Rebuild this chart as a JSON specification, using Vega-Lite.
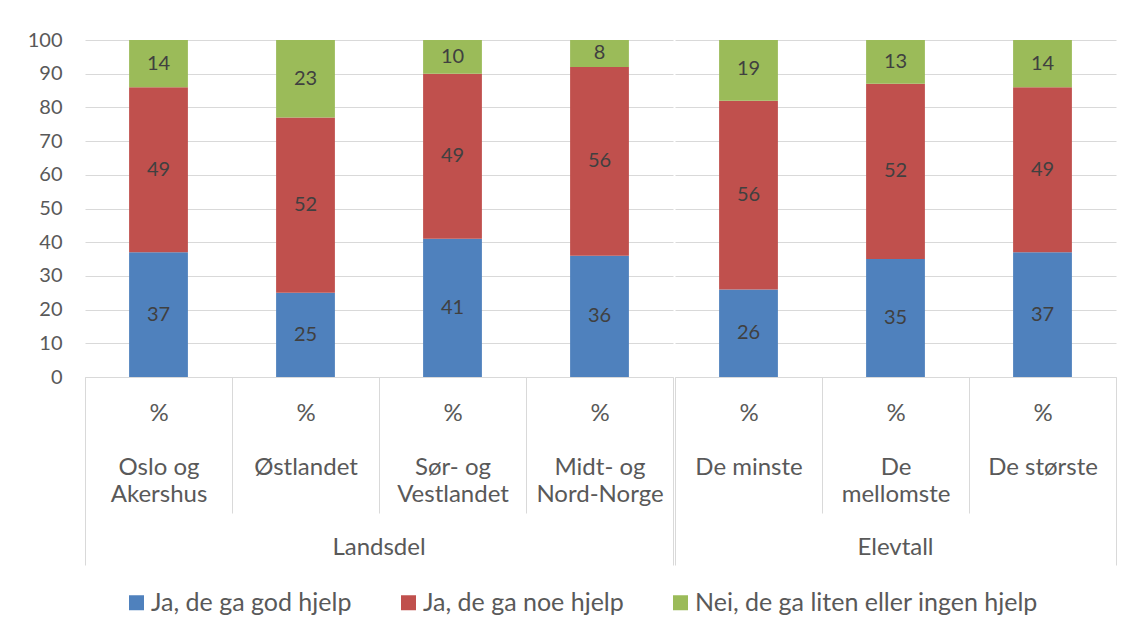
{
  "$schema": "https://vega.github.io/schema/vega-lite/v6.json",
  "padding": {"left": 27, "top": 30, "right": 16, "bottom": 5},
  "background": "white",
  "data": {
    "values": [
      {"group": "Landsdel", "category": "Oslo og Akershus", "series": "Ja, de ga god hjelp", "value": 37},
      {"group": "Landsdel", "category": "Oslo og Akershus", "series": "Ja, de ga noe hjelp", "value": 49},
      {"group": "Landsdel", "category": "Oslo og Akershus", "series": "Nei, de ga liten eller ingen hjelp", "value": 14},
      {"group": "Landsdel", "category": "Østlandet", "series": "Ja, de ga god hjelp", "value": 25},
      {"group": "Landsdel", "category": "Østlandet", "series": "Ja, de ga noe hjelp", "value": 52},
      {"group": "Landsdel", "category": "Østlandet", "series": "Nei, de ga liten eller ingen hjelp", "value": 23},
      {"group": "Landsdel", "category": "Sør- og Vestlandet", "series": "Ja, de ga god hjelp", "value": 41},
      {"group": "Landsdel", "category": "Sør- og Vestlandet", "series": "Ja, de ga noe hjelp", "value": 49},
      {"group": "Landsdel", "category": "Sør- og Vestlandet", "series": "Nei, de ga liten eller ingen hjelp", "value": 10},
      {"group": "Landsdel", "category": "Midt- og Nord-Norge", "series": "Ja, de ga god hjelp", "value": 36},
      {"group": "Landsdel", "category": "Midt- og Nord-Norge", "series": "Ja, de ga noe hjelp", "value": 56},
      {"group": "Landsdel", "category": "Midt- og Nord-Norge", "series": "Nei, de ga liten eller ingen hjelp", "value": 8},
      {"group": "Elevtall", "category": "De minste", "series": "Ja, de ga god hjelp", "value": 26},
      {"group": "Elevtall", "category": "De minste", "series": "Ja, de ga noe hjelp", "value": 56},
      {"group": "Elevtall", "category": "De minste", "series": "Nei, de ga liten eller ingen hjelp", "value": 19},
      {"group": "Elevtall", "category": "De mellomste", "series": "Ja, de ga god hjelp", "value": 35},
      {"group": "Elevtall", "category": "De mellomste", "series": "Ja, de ga noe hjelp", "value": 52},
      {"group": "Elevtall", "category": "De mellomste", "series": "Nei, de ga liten eller ingen hjelp", "value": 13},
      {"group": "Elevtall", "category": "De største", "series": "Ja, de ga god hjelp", "value": 37},
      {"group": "Elevtall", "category": "De største", "series": "Ja, de ga noe hjelp", "value": 49},
      {"group": "Elevtall", "category": "De største", "series": "Nei, de ga liten eller ingen hjelp", "value": 14}
    ]
  },
  "facet": {
    "column": {
      "field": "group",
      "type": "nominal",
      "sort": ["Landsdel", "Elevtall"],
      "title": null,
      "header": {
        "labelOrient": "bottom",
        "labelFont": "Lato",
        "labelFontSize": 24,
        "labelColor": "#595959",
        "labelPadding": -30
      }
    }
  },
  "spacing": 0,
  "resolve": {"scale": {"x": "independent"}},
  "spec": {
    "width": {"step": 147},
    "height": 337,
    "encoding": {
      "x": {
        "field": "category",
        "type": "nominal",
        "sort": null,
        "scale": {"paddingInner": 0, "paddingOuter": 0},
        "axis": {
          "title": null,
          "labelAngle": 0,
          "labelFont": "Lato",
          "labelFontSize": 24,
          "labelColor": "#595959",
          "labelLineHeight": 27,
          "labelLimit": 0,
          "labelOverlap": false,
          "labelBound": false,
          "labelFlush": false,
          "labelExpr": "datum.label == '' ? '' : split('%|\u2800|' + replace(replace(datum.label, ' og ', ' og|'), 'De mellomste', 'De|mellomste'), '|')",
          "tickBand": "extent",
          "tickColor": "#D9D9D9",
          "tickWidth": 1,
          "tickSize": {"condition": {"test": "datum.index == -1 || datum.index == 1", "value": 188}, "value": 136},
          "labelPadding": {"condition": {"test": "datum.index == 1", "value": -164}, "value": -112},
          "domainColor": "#D9D9D9",
          "domainWidth": 1,
          "grid": false
        }
      },
      "y": {
        "field": "value",
        "type": "quantitative",
        "stack": "zero",
        "scale": {"domain": [0, 100], "nice": false},
        "axis": {
          "title": null,
          "values": [0, 10, 20, 30, 40, 50, 60, 70, 80, 90, 100],
          "labelFont": "Lato",
          "labelFontSize": 20,
          "labelColor": "#595959",
          "labelPadding": 22,
          "ticks": false,
          "domain": false,
          "grid": true,
          "gridColor": "#D9D9D9",
          "gridWidth": 1
        }
      }
    },
    "layer": [
      {
        "mark": {"type": "bar", "width": {"band": 0.4}, "clip": true},
        "encoding": {
          "color": {
            "field": "series",
            "type": "nominal",
            "scale": {
              "domain": ["Ja, de ga god hjelp", "Ja, de ga noe hjelp", "Nei, de ga liten eller ingen hjelp"],
              "range": ["#4F81BD", "#C0504D", "#9BBB59"]
            },
            "legend": {
              "orient": "none",
              "legendX": 39,
              "legendY": 550,
              "direction": "horizontal",
              "title": null,
              "symbolType": "square",
              "symbolSize": 225,
              "symbolStrokeWidth": 0,
              "labelFont": "Lato",
              "labelFontSize": 25,
              "labelColor": "#595959",
              "labelLimit": 600,
              "labelOffset": 2,
              "columnPadding": 44,
              "padding": 0
            }
          },
          "order": {"field": "series", "sort": "ascending"}
        }
      },
      {
        "mark": {"type": "text", "font": "Lato", "fontSize": 20, "color": "#404040", "baseline": "middle"},
        "encoding": {
          "y": {"field": "value", "type": "quantitative", "stack": "zero", "bandPosition": 0.5},
          "detail": {"field": "series"},
          "order": {"field": "series", "sort": "ascending"},
          "text": {"field": "value", "type": "quantitative"}
        }
      }
    ]
  },
  "config": {
    "view": {"stroke": null},
    "axis": {"labelFont": "Lato"}
  }
}
